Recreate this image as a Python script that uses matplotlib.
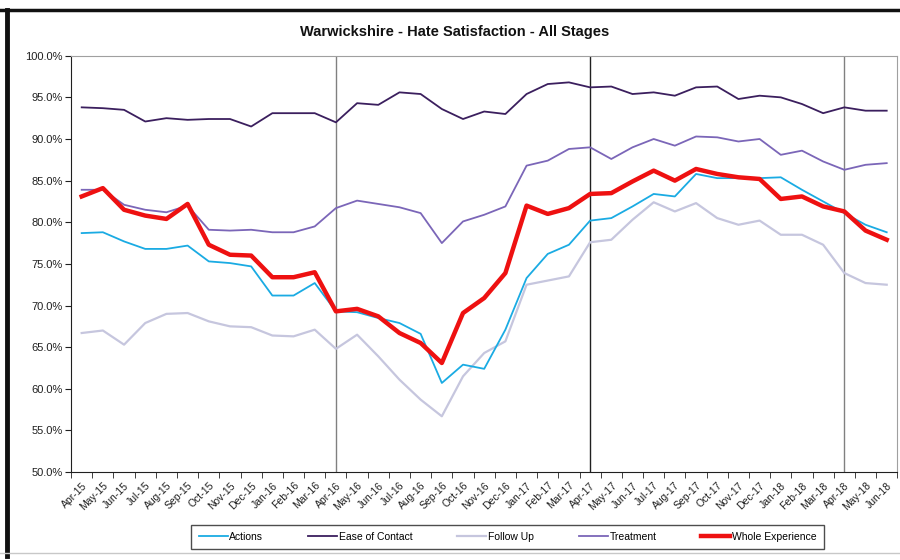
import numpy as np
import matplotlib
matplotlib.use("Agg")
import matplotlib.pyplot as plt
from matplotlib.lines import Line2D
from matplotlib.ticker import FuncFormatter

plt.rcParams['font.family'] = ['Liberation Sans Narrow', 'Liberation Sans', 'DejaVu Sans']

months = ['Apr-15', 'May-15', 'Jun-15', 'Jul-15', 'Aug-15', 'Sep-15', 'Oct-15', 'Nov-15',
          'Dec-15', 'Jan-16', 'Feb-16', 'Mar-16', 'Apr-16', 'May-16', 'Jun-16', 'Jul-16',
          'Aug-16', 'Sep-16', 'Oct-16', 'Nov-16', 'Dec-16', 'Jan-17', 'Feb-17', 'Mar-17',
          'Apr-17', 'May-17', 'Jun-17', 'Jul-17', 'Aug-17', 'Sep-17', 'Oct-17', 'Nov-17',
          'Dec-17', 'Jan-18', 'Feb-18', 'Mar-18', 'Apr-18', 'May-18', 'Jun-18']

actions = [78.7, 78.8, 77.7, 76.8, 76.8, 77.2, 75.3, 75.1, 74.7, 71.2, 71.2, 72.7,
           69.3, 69.2, 68.5, 67.9, 66.6, 60.7, 62.9, 62.4, 67.1, 73.3, 76.2, 77.3,
           80.2, 80.5, 81.9, 83.4, 83.1, 85.8, 85.3, 85.3, 85.3, 85.4, 83.9, 82.5,
           81.1, 79.7, 78.8]
ease_of_contact = [93.8, 93.7, 93.5, 92.1, 92.5, 92.3, 92.4, 92.4, 91.5, 93.1, 93.1, 93.1,
                   92.0, 94.3, 94.1, 95.6, 95.4, 93.6, 92.4, 93.3, 93.0, 95.4, 96.6, 96.8,
                   96.2, 96.3, 95.4, 95.6, 95.2, 96.2, 96.3, 94.8, 95.2, 95.0, 94.2, 93.1,
                   93.8, 93.4, 93.4]
follow_up = [66.7, 67.0, 65.3, 67.9, 69.0, 69.1, 68.1, 67.5, 67.4, 66.4, 66.3, 67.1,
             64.8, 66.5, 63.9, 61.1, 58.7, 56.7, 61.5, 64.3, 65.7, 72.5, 73.0, 73.5,
             77.6, 77.9, 80.3, 82.4, 81.3, 82.3, 80.5, 79.7, 80.2, 78.5, 78.5, 77.3,
             73.9, 72.7, 72.5]
treatment = [83.9, 83.9, 82.1, 81.5, 81.2, 82.0, 79.1, 79.0, 79.1, 78.8, 78.8, 79.5,
             81.7, 82.6, 82.2, 81.8, 81.1, 77.5, 80.1, 80.9, 81.9, 86.8, 87.4, 88.8,
             89.0, 87.6, 89.0, 90.0, 89.2, 90.3, 90.2, 89.7, 90.0, 88.1, 88.6, 87.3,
             86.3, 86.9, 87.1]
whole_experience = [83.1, 84.1, 81.5, 80.8, 80.4, 82.2, 77.3, 76.1, 76.0, 73.4, 73.4, 74.0,
                    69.3, 69.6, 68.7, 66.7, 65.5, 63.1, 69.1, 70.9, 73.9, 82.0, 81.0, 81.7,
                    83.4, 83.5, 84.9, 86.2, 85.0, 86.4, 85.8, 85.4, 85.2, 82.8, 83.1, 81.9,
                    81.3, 79.0, 77.9]

x = np.arange(len(months))

fig = plt.figure(figsize=(9, 5.6), dpi=100)
ax = fig.add_axes([0.079, 0.157, 0.918, 0.7435])

# year separators
for m, c in [('Apr-16', '#808080'), ('Apr-17', '#202020'), ('Apr-18', '#808080')]:
    ax.axvline(months.index(m), color=c, lw=1.0, zorder=1)

ax.plot(x, follow_up, color='#c6c6de', lw=1.6, label='Follow Up', zorder=2)
ax.plot(x, treatment, color='#7b66b8', lw=1.3, label='Treatment', zorder=3)
ax.plot(x, ease_of_contact, color='#3b1f5e', lw=1.3, label='Ease of Contact', zorder=3)
ax.plot(x, actions, color='#1aabe3', lw=1.3, label='Actions', zorder=4)
ax.plot(x, whole_experience, color='#ee1111', lw=3.2, label='Whole Experience', zorder=5)

ax.set_xlim(-0.5, len(months) - 0.5)
ax.set_ylim(50, 100)
ax.set_yticks(np.arange(50, 100.1, 5))
ax.yaxis.set_major_formatter(FuncFormatter(lambda v, p: f'{v:.1f}%'))
ax.tick_params(axis='y', labelsize=8, direction='out', length=4, color='#202020', pad=2,
               labelcolor='#202020')

ax.set_xticks(x)
ax.set_xticklabels(months, rotation=45, ha='right', rotation_mode='anchor', fontsize=7.5,
                   color='#202020')
ax.set_xticks(np.arange(-0.5, len(months), 1), minor=True)
ax.tick_params(axis='x', which='major', length=0, pad=6)
ax.tick_params(axis='x', which='minor', length=4, direction='out', color='#202020')

for s in ['top', 'right']:
    ax.spines[s].set_color('#a0a0a0')
for s in ['left', 'bottom']:
    ax.spines[s].set_color('#202020')

fig.text(0.505, 0.943, 'Warwickshire - Hate Satisfaction - All Stages', ha='center',
         va='center', fontsize=10.5, fontweight='bold', color='#111111')

order = ['Actions', 'Ease of Contact', 'Follow Up', 'Treatment', 'Whole Experience']
handles, labels = ax.get_legend_handles_labels()
hmap = dict(zip(labels, handles))
leg = fig.legend([hmap[k] for k in order], order, loc='center', ncol=5,
                 bbox_to_anchor=(0.564, 0.041), frameon=True, fancybox=False,
                 fontsize=7.5, handlelength=2.8, handletextpad=0.15, columnspacing=4.3,
                 borderpad=0.7)
leg.get_frame().set_edgecolor('#202020')
leg.get_frame().set_linewidth(1.0)

# outer frame of the screenshot
fig.add_artist(Line2D([0, 1], [1 - 9.5 / 560] * 2, transform=fig.transFigure,
                      color='#111111', lw=2.5))
fig.add_artist(Line2D([6.5 / 900] * 2, [0.008, 1 - 9.5 / 560], transform=fig.transFigure,
                      color='#111111', lw=3.5))
fig.add_artist(Line2D([0, 1], [7 / 560] * 2, transform=fig.transFigure,
                      color='#c8c8c8', lw=1.0))

fig.savefig('out.png', dpi=100)
